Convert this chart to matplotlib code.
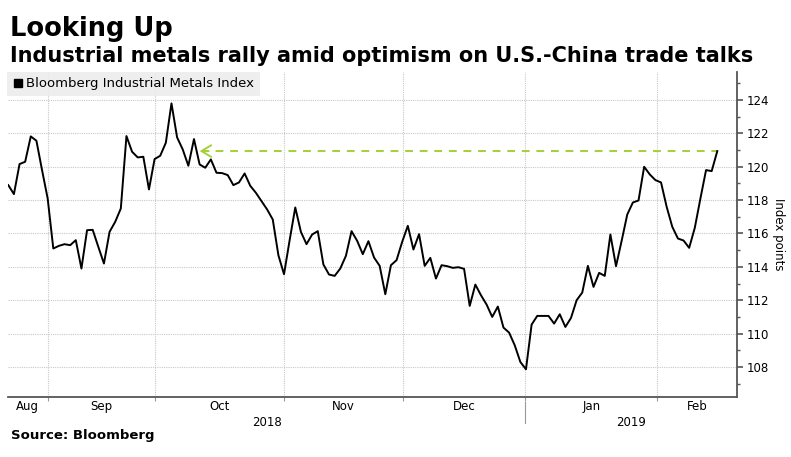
import matplotlib
matplotlib.use('Agg')
import matplotlib.pyplot as plt
import matplotlib.transforms as mtransforms
from matplotlib.lines import Line2D

# Bloomberg Industrial Metals Index, one value per trading day (Aug 2018 - Feb 2019)
index_values = [
    118.9, 118.36, 120.16, 120.3, 121.82, 121.56, 119.8, 118.1, 115.1, 115.26,
    115.36, 115.3, 115.6, 113.9, 116.2, 116.22, 115.2, 114.2, 116.1, 116.7,
    117.5, 121.84, 120.9, 120.56, 120.6, 118.64, 120.46, 120.66, 121.44, 123.8,
    121.76, 121.04, 120.06, 121.66, 120.14, 119.94, 120.44, 119.64, 119.62, 119.5,
    118.9, 119.06, 119.6, 118.86, 118.44, 117.94, 117.44, 116.84, 114.7, 113.56,
    115.6, 117.56, 116.1, 115.36, 115.94, 116.14, 114.14, 113.54, 113.46, 113.9,
    114.66, 116.14, 115.56, 114.76, 115.54, 114.56, 114.06, 112.36, 114.1, 114.4,
    115.5, 116.46, 115.04, 115.96, 114.06, 114.54, 113.3, 114.1, 114.04, 113.94,
    113.98, 113.88, 111.66, 112.94, 112.3, 111.74, 111.0, 111.62, 110.36, 110.06,
    109.3, 108.3, 107.86, 110.54, 111.06, 111.06, 111.06, 110.6, 111.16, 110.4,
    110.94, 112.0, 112.46, 114.06, 112.8, 113.64, 113.46, 115.94, 114.04, 115.56,
    117.14, 117.86, 117.98, 120.0, 119.54, 119.2, 119.06, 117.6, 116.4, 115.7,
    115.58, 115.14, 116.34, 118.1, 119.8, 119.74, 120.94,
]
month_labels = ['Aug', 'Sep', 'Oct', 'Nov', 'Dec', 'Jan', 'Feb']
year_labels = ['2018', '2019']
ytick_values = [108, 110, 112, 114, 116, 118, 120, 122, 124]

# layout (trading-day positions of month starts)
month_starts = [7.0, 26.1, 49.0, 70.1, 91.9, 115.3]
x_min, x_max = -0.05, 129.5
y_min, y_max = 106.2, 125.68
arrow_tip = 34

GRID = '#c8c8c8'
AXIS = '#555555'
GREEN = '#a3d137'

fig = plt.figure(figsize=(7.91, 4.57), dpi=100)
ax = fig.add_axes([8 / 791, 60 / 457, 729 / 791, 325 / 457])

x = list(range(len(index_values)))
ax.plot(x, index_values, color='black', linewidth=1.4, zorder=3)

# dashed green line back to the earlier level, with an open arrow head
last = index_values[-1]
ax.plot([arrow_tip + 0.3, x[-1]], [last, last], color=GREEN, linewidth=1.4,
        linestyle=(0, (4, 3.5)), zorder=2)
ax.annotate('', xy=(arrow_tip, last), xytext=(arrow_tip + 1.6, last),
            arrowprops=dict(arrowstyle='->,head_length=0.5,head_width=0.3', color=GREEN,
                            linewidth=1.4, shrinkA=0, shrinkB=0, mutation_scale=14),
            zorder=2)

ax.set_xlim(x_min, x_max)
ax.set_ylim(y_min, y_max)

# y axis on the right
ax.yaxis.tick_right()
ax.yaxis.set_label_position('right')
ax.set_yticks(ytick_values)
ax.set_yticklabels([str(v) for v in ytick_values])
ax.set_yticks([v + 1 for v in ytick_values[:-1]] + [107, 125], minor=True)
ax.tick_params(axis='y', which='major', direction='out', length=4, width=1.2,
               color=AXIS, labelsize=8.5, pad=3)
ax.tick_params(axis='y', which='minor', direction='out', length=2.5, width=1,
               color=AXIS)
ax.set_ylabel('Index points', rotation=270, fontsize=8.5, labelpad=11)

# x axis: month boundaries as ticks, names centred between them
edges = [x_min] + month_starts + [x_max]
mids = [(edges[i] + edges[i + 1]) / 2 for i in range(len(edges) - 1)]
ax.set_xticks(month_starts)
ax.set_xticklabels([''] * len(month_starts))
ax.set_xticks(mids, minor=True)
ax.set_xticklabels(month_labels, minor=True)
ax.tick_params(axis='x', which='major', direction='out', length=3, width=0.8, color='#999999')
ax.tick_params(axis='x', which='minor', length=0, labelsize=8.5, pad=2)

# year labels and divider
trans = mtransforms.blended_transform_factory(ax.transData, ax.transAxes)
ax.text((x_min + month_starts[4]) / 2, -0.058, year_labels[0], transform=trans,
        ha='center', va='top', fontsize=8.5)
ax.text((month_starts[4] + x_max) / 2, -0.058, year_labels[1], transform=trans,
        ha='center', va='top', fontsize=8.5)
ax.plot([month_starts[4], month_starts[4]], [-0.016, -0.08], transform=trans,
        color='#999999', linewidth=0.8, clip_on=False)

# grid
ax.grid(True, which='major', axis='both', color=GRID, linestyle=(0, (1, 1)), linewidth=0.8)
ax.set_axisbelow(True)

for side in ['top', 'left']:
    ax.spines[side].set_visible(False)
for side in ['right', 'bottom']:
    ax.spines[side].set_color(AXIS)
    ax.spines[side].set_linewidth(1.3)

# legend
handle = Line2D([], [], marker='s', color='black', linestyle='none', markersize=5.5)
leg = ax.legend([handle], ['Bloomberg Industrial Metals Index'], loc='upper left',
                bbox_to_anchor=(-0.002, 1.0), borderaxespad=0, frameon=True,
                fancybox=False, fontsize=9.5, handletextpad=0.1, handlelength=1.0,
                borderpad=0.4)
leg.get_frame().set_facecolor('#ececec')
leg.get_frame().set_edgecolor('none')
leg.get_frame().set_alpha(0.85)

# titles and source
fig.text(10 / 791, 1 - 36 / 457, 'Looking Up', fontsize=18.5, fontweight='bold',
         ha='left', va='baseline')
fig.text(10 / 791, 1 - 62 / 457,
         'Industrial metals rally amid optimism on U.S.-China trade talks',
         fontsize=15, fontweight='bold', ha='left', va='baseline')
fig.text(11 / 791, 1 - 439 / 457, 'Source: Bloomberg', fontsize=9.5,
         fontweight='bold', ha='left', va='baseline')

fig.savefig('out.png', dpi=100)
